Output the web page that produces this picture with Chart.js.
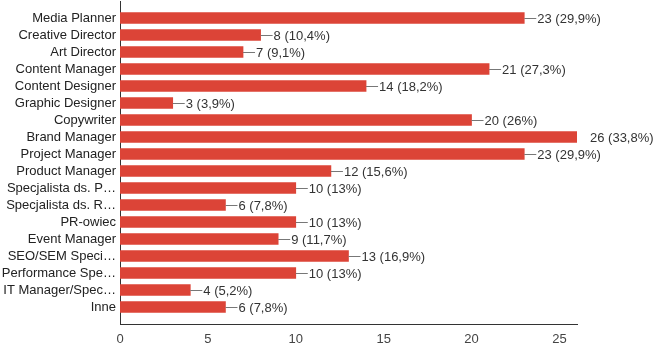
<!DOCTYPE html>
<html><head><meta charset="utf-8">
<script src="https://cdn.jsdelivr.net/npm/chart.js@4/dist/chart.umd.min.js"></script>
<style>html,body{margin:0;padding:0;background:#fff}#wrap{width:657px;height:356px}</style>
</head><body><div id="wrap"><canvas id="c" width="657" height="356"></canvas></div>
<script>
const categories = ["Media Planner","Creative Director","Art Director","Content Manager","Content Designer","Graphic Designer","Copywriter","Brand Manager","Project Manager","Product Manager","Specjalista ds. P…","Specjalista ds. R…","PR-owiec","Event Manager","SEO/SEM Speci…","Performance Spe…","IT Manager/Spec…","Inne"];
const counts = [23,8,7,21,14,3,20,26,23,12,10,6,10,9,13,10,4,6];
const percents = ["29,9%","10,4%","9,1%","27,3%","18,2%","3,9%","26%","33,8%","29,9%","15,6%","13%","7,8%","13%","11,7%","16,9%","13%","5,2%","7,8%"];
const xTicks = [0,5,10,15,20,25];
const xMax = 26;

const FONT = "'Liberation Sans', Arial, sans-serif";
const labels = [""].concat(categories, [""]);
const data = [null].concat(counts, [null]);
const pcts = [null].concat(percents, [null]);

const valueLabels = {
  id: 'valueLabels',
  afterDatasetsDraw(chart) {
    const ctx = chart.ctx;
    const meta = chart.getDatasetMeta(0);
    const maxV = Math.max(...counts);
    ctx.save();
    ctx.font = "13px " + FONT;
    ctx.textBaseline = 'middle';
    ctx.textAlign = 'left';
    meta.data.forEach((el, i) => {
      const v = data[i];
      if (v == null) return;
      const x = el.x, y = Math.round(el.y) + 0.5;
      if (v !== maxV) {
        ctx.strokeStyle = '#777';
        ctx.lineWidth = 1;
        ctx.beginPath();
        ctx.moveTo(x, y);
        ctx.lineTo(x + 12, y);
        ctx.stroke();
      }
      ctx.fillStyle = '#333';
      ctx.fillText(v + ' (' + pcts[i] + ')', x + 13, y + 0.5);
    });
    ctx.restore();
  }
};

function zeroPad(scale) {
  scale.paddingTop = 0; scale.paddingBottom = 0;
  scale.paddingLeft = 0; scale.paddingRight = 0;
}

new Chart(document.getElementById('c'), {
  type: 'bar',
  data: {
    labels: labels,
    datasets: [{
      data: data,
      backgroundColor: '#dc4437',
      borderWidth: 0,
      barThickness: 11
    }]
  },
  options: {
    indexAxis: 'y',
    responsive: false,
    animation: false,
    devicePixelRatio: 1,
    layout: { padding: { top: 1, right: 80, bottom: 0, left: 0 } },
    plugins: { legend: { display: false }, tooltip: { enabled: false } },
    scales: {
      y: {
        type: 'category',
        offset: false,
        grid: { display: false, drawTicks: false },
        border: { display: true, color: '#333', width: 1 },
        ticks: { color: '#222', font: { family: FONT, size: 13 }, padding: 4, autoSkip: false },
        afterFit(scale) { scale.width = 120; zeroPad(scale); }
      },
      x: {
        type: 'linear',
        min: 0,
        max: xMax,
        grid: { display: false, drawTicks: false },
        border: { display: true, color: '#333', width: 1 },
        ticks: { color: '#444', font: { family: FONT, size: 13 }, padding: 8 },
        afterBuildTicks(scale) { scale.ticks = xTicks.map(v => ({ value: v })); },
        afterFit(scale) { scale.height = 32; zeroPad(scale); }
      }
    }
  },
  plugins: [valueLabels]
});
</script></body></html>
